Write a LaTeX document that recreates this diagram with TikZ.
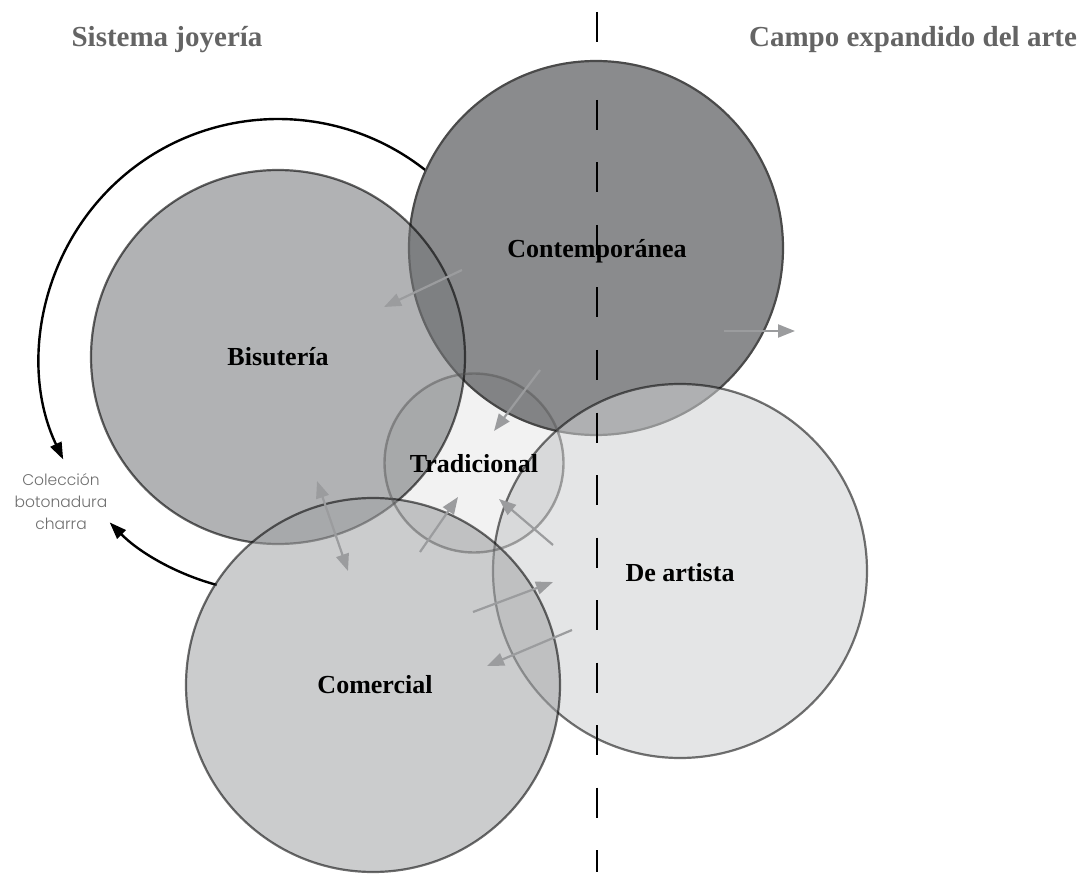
\documentclass[tikz,border=0pt]{standalone}
\usepackage{fontspec}
\setmainfont{Liberation Serif}
\newfontfamily\notefont{Poppins}[UprightFont=* Light]
\usetikzlibrary{arrows.meta}
\definecolor{contfill}{HTML}{8A8B8D}
\definecolor{contdraw}{HTML}{4A4A4A}
\definecolor{bisfill}{HTML}{76787B}
\definecolor{artfill}{HTML}{CED0D1}
\definecolor{comfill}{HTML}{A0A2A4}
\definecolor{tradraw}{HTML}{555555}
\definecolor{arrowgray}{HTML}{9B9C9E}
\definecolor{titlegray}{HTML}{646464}
\definecolor{notegray}{HTML}{6E6E6E}
\tikzset{
  bigcircle/.style={line width=2.2pt},
  grayarrow/.style={draw=arrowgray, line width=2.2pt, -{Triangle[length=17pt,width=13pt]}},
  grayboth/.style={draw=arrowgray, line width=2.2pt, {Triangle[length=17pt,width=13pt]}-{Triangle[length=17pt,width=13pt]}},
  blackarc/.style={draw=black, line width=2.4pt, -{Triangle[length=17pt,width=12pt]}},
  dashline/.style={draw=black, line width=2.6pt},
  circlabel/.style={font=\bfseries\fontsize{26}{30}\selectfont, text=black, anchor=base, inner sep=0pt},
  titlelabel/.style={font=\bfseries\fontsize{29}{34}\selectfont, text=titlegray, anchor=base, inner sep=0pt},
  notelabel/.style={font=\notefont\fontsize{15.5}{22}\selectfont, text=notegray, align=center, inner sep=0pt}
}
\begin{document}
\begin{tikzpicture}[x=1pt,y=1pt]
\useasboundingbox (0,0) rectangle (1081,-874);
% centres
\coordinate (cC) at (596,-248);
\coordinate (cB) at (278,-357);
\coordinate (cT) at (474,-463);
\coordinate (cA) at (680,-571);
\coordinate (cM) at (373,-685);
% black arcs (behind the circles)
\draw[blackarc] (cB) ++(51.5:238) arc[start angle=51.5, end angle=205.5, radius=238];
\draw[blackarc] (cB) ++(255:236) arc[start angle=255, end angle=224.5, radius=236];
% circles
\fill[contfill] (cC) circle[radius=187pt];
\draw[bigcircle, draw=contdraw] (cC) circle[radius=187pt];
\path[bigcircle, fill=bisfill, fill opacity=0.57, draw=black, draw opacity=0.6] (cB) circle[radius=187pt];
\path[bigcircle, fill=artfill, fill opacity=0.55, draw=black, draw opacity=0.55] (cA) circle[radius=187pt];
\path[bigcircle, fill=comfill, fill opacity=0.55, draw=black, draw opacity=0.57] (cM) circle[radius=187pt];
\path[line width=2.4pt, fill=black, fill opacity=0.05, draw=tradraw, draw opacity=0.5] (cT) circle[radius=89.5pt];
% dashed divider
\coordinate (d0) at (597,-12);
\coordinate (d1) at (597,-42);
\coordinate (d2) at (597,-100);
\coordinate (d3) at (597,-872);
\draw[dashline] (d0) -- (d1);
\draw[dashline, dash pattern=on 30pt off 32.5pt] (d2) -- (d3);
% gray arrows
\coordinate (a1s) at (462,-270); \coordinate (a1e) at (384,-307);
\coordinate (a2s) at (540,-370); \coordinate (a2e) at (494,-431);
\coordinate (a3s) at (420,-552); \coordinate (a3e) at (458,-497);
\coordinate (a4s) at (553,-545); \coordinate (a4e) at (499,-499);
\coordinate (a5s) at (473,-612); \coordinate (a5e) at (553,-582);
\coordinate (a6s) at (572,-630); \coordinate (a6e) at (487,-666);
\coordinate (a7s) at (724,-331); \coordinate (a7e) at (795,-331);
\coordinate (a8s) at (317,-481); \coordinate (a8e) at (348,-571);
\draw[grayarrow] (a1s) -- (a1e);
\draw[grayarrow] (a2s) -- (a2e);
\draw[grayarrow] (a3s) -- (a3e);
\draw[grayarrow] (a4s) -- (a4e);
\draw[grayarrow] (a5s) -- (a5e);
\draw[grayarrow] (a6s) -- (a6e);
\draw[grayarrow] (a7s) -- (a7e);
\draw[grayboth] (a8s) -- (a8e);
% labels
\node[circlabel] (lC) at (597,-258) {Contemporánea};
\node[circlabel] (lB) at (278,-365) {Bisutería};
\node[circlabel] (lT) at (474,-472) {Tradicional};
\node[circlabel] (lA) at (680,-581) {De artista};
\node[circlabel] (lM) at (375,-693) {Comercial};
\node[titlelabel] (t1) at (167,-47) {Sistema joyería};
\node[titlelabel] (t2) at (913,-47) {Campo expandido del arte};
\node[notelabel] (note) at (61,-502) {Colección\\botonadura\\charra};
\end{tikzpicture}
\end{document}
